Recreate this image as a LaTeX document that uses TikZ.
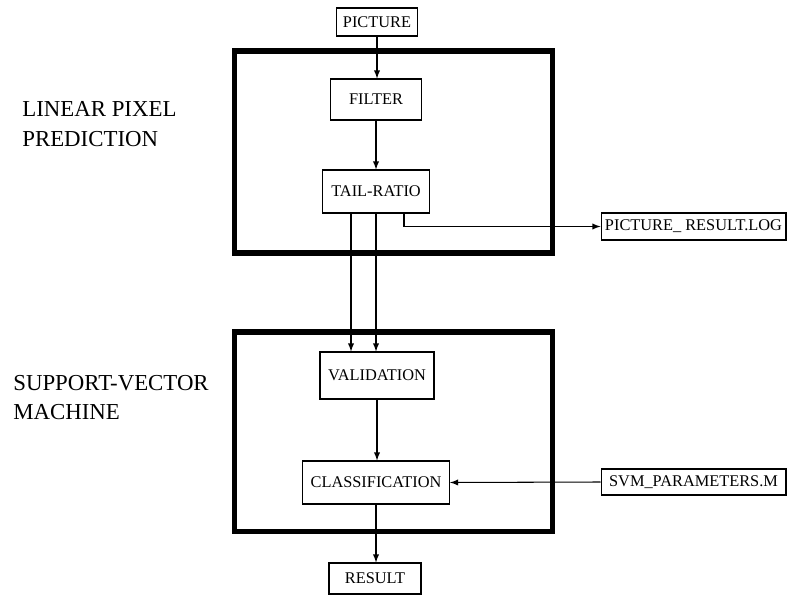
\documentclass[tikz,border=0pt]{standalone}
\usepackage{fontspec}
\setmainfont{Liberation Serif}
\usepackage{tikz}
\usetikzlibrary{shapes,arrows,positioning}
\tikzstyle{block} = [draw, fill=white, line width=0.6pt, inner sep=0pt, font=\fontsize{9.3}{11}\selectfont]
\tikzstyle{stage} = [draw, line width=3.1pt, inner sep=0pt]
\tikzstyle{title} = [align=left, inner sep=0pt, anchor=west, font=\fontsize{13}{17}\selectfont]
\tikzstyle{arrow} = [line width=0.6pt,->,>=latex]

\begin{document}
\begin{tikzpicture}[x=0.02cm, y=-0.02cm]
        \useasboundingbox (0,0) rectangle (787,597);

        \node[stage, minimum width=6.36cm, minimum height=4.04cm] (lpp) at (393.5,152) {};
        \node[stage, minimum width=6.36cm, minimum height=3.99cm] (svm) at (393.5,431.75) {};
        \node[title] (lpplabel) at (22,124) {LINEAR PIXEL\\PREDICTION};
        \node[title] (svmlabel) at (13,397.5) {SUPPORT-VECTOR\\MACHINE};

        \node[block, minimum width=1.62cm, minimum height=0.56cm] (pic) at (377,22) {PICTURE};
        \node[block, minimum width=1.82cm, minimum height=0.82cm] (filter) at (376,99.5) {FILTER};
        \node[block, minimum width=2.14cm, minimum height=0.86cm] (tail) at (376,191.5) {TAIL-RATIO};
        \node[block, minimum width=2.28cm, minimum height=0.94cm] (valid) at (377,375.5) {VALIDATION};
        \node[block, minimum width=2.94cm, minimum height=0.86cm] (class) at (376,482.5) {CLASSIFICATION};
        \node[block, minimum width=1.84cm, minimum height=0.62cm] (result) at (375,578.5) {RESULT};
        \node[block, minimum width=3.7cm, minimum height=0.54cm] (log) at (693.5,226.5) {PICTURE\_ RESULT.LOG};
        \node[block, minimum width=3.7cm, minimum height=0.52cm] (param) at (693.5,482) {SVM\_PARAMETERS.M};

        \draw[arrow] (pic.south) -- (pic.south |- filter.north);
        \draw[arrow] (filter.south) -- (filter.south |- tail.north);
        \draw[arrow] ([xshift=-0.5cm]tail.south) -- ([xshift=-0.5cm]tail.south |- valid.north);
        \draw[arrow] (tail.south) -- (tail.south |- valid.north);
        \draw[arrow] ([xshift=0.56cm]tail.south) |- (log.west);
        \draw[arrow] (valid.south) -- (valid.south |- class.north);
        \draw[arrow] (param.west) -- (class.east);
        \draw[arrow] (class.south) -- (class.south |- result.north);
    \end{tikzpicture}
\end{document}
